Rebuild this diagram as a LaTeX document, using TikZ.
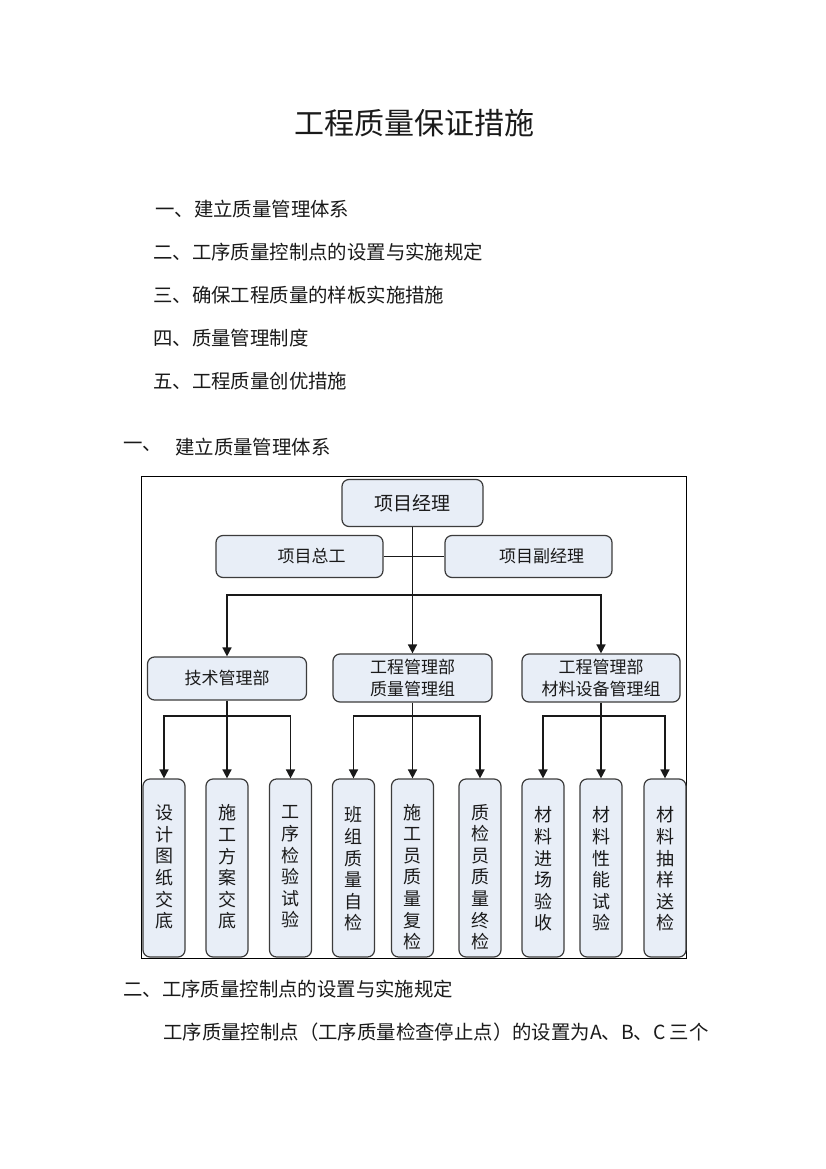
\documentclass[tikz,border=0pt]{standalone}
\usepackage{fontspec}
\setmainfont{Noto Sans CJK SC}
\usetikzlibrary{arrows.meta}
\definecolor{boxfill}{HTML}{E8EEF7}
\definecolor{boxdraw}{HTML}{3C3C3C}
\definecolor{ink}{HTML}{1A1A1A}
\begin{document}
\begin{tikzpicture}[x=1pt,y=-1pt,
  box/.style={draw=boxdraw, fill=boxfill, rounded corners=7pt, line width=1.2pt, inner sep=0pt, text=ink},
  hbox/.style={box, font=\fontsize{17}{22}\selectfont, align=center},
  vbox/.style={box, minimum width=42pt, minimum height=178pt},
  vtxt/.style={inner sep=0pt, align=center, text=ink, font=\fontsize{18}{21.6}\selectfont},
  conn/.style={line width=1.6pt, draw=black!90},
  arr/.style={conn, -{Triangle[length=9pt,width=9pt]}},
  body/.style={inner sep=0pt, anchor=west, text=ink, font=\fontsize{19.4}{19.4}\selectfont}]
\fill[white] (0,0) rectangle (826,1169);
\path[use as bounding box] (0,0) rectangle (826,1169);

% title and text
\node[inner sep=0pt, text=ink, font=\fontsize{30}{30}\selectfont] (title) at (414,123) {工程质量保证措施};
\node[body] (l1) at (155,209) {一、建立质量管理体系};
\node[body] (l2) at (153,252) {二、工序质量控制点的设置与实施规定};
\node[body] (l3) at (153,295) {三、确保工程质量的样板实施措施};
\node[body] (l4) at (153,338) {四、质量管理制度};
\node[body] (l5) at (153,381) {五、工程质量创优措施};
\node[body] (h1a) at (123,447) {一、};
\node[body] (h1b) at (175,447) {建立质量管理体系};
\node[body] (h2) at (123,989) {二、工序质量控制点的设置与实施规定};
\node[body] (p1) at (163,1032) {工序质量控制点（工序质量检查停止点）的设置为A、B、C\hspace{4pt}三个};

% frame
\draw[line width=0.9pt, draw=black] (141,476) rectangle (686,958);

% upper nodes
\node[hbox, minimum width=141pt, minimum height=47pt, font=\fontsize{19}{22}\selectfont] (pm) at (412.5,503) {项目经理};
\node[hbox, minimum width=167pt, minimum height=42pt] (zg) at (299.5,556.5) {\hspace*{24pt}项目总工};
\node[hbox, minimum width=167pt, minimum height=42pt] (fj) at (528.5,556.5) {\hspace*{26pt}项目副经理};
\node[hbox, minimum width=159pt, minimum height=43pt] (js) at (227,678.5) {技术管理部};
\node[hbox, minimum width=159pt, minimum height=48pt] (zl) at (412.5,678) {工程管理部\\质量管理组};
\node[hbox, minimum width=158pt, minimum height=48pt] (cl) at (601,678) {工程管理部\\材料设备管理组};

% bottom nodes
\node[vbox, label={[vtxt, yshift=1pt]center:设\\计\\图\\纸\\交\\底}] (d1) at (164,868) {};
\node[vbox, label={[vtxt, yshift=1pt]center:施\\工\\方\\案\\交\\底}] (d2) at (227,868) {};
\node[vbox, label={[vtxt, yshift=1pt]center:工\\序\\检\\验\\试\\验}] (d3) at (290.5,868) {};
\node[vbox, label={[vtxt, yshift=-1pt]center:班\\组\\质\\量\\自\\检}] (e1) at (353.5,868) {};
\node[vbox, label={[vtxt, yshift=-9pt]center:施\\工\\员\\质\\量\\复\\检}] (e2) at (412.5,868) {};
\node[vbox, label={[vtxt, yshift=-9pt]center:质\\检\\员\\质\\量\\终\\检}] (e3) at (480,868) {};
\node[vbox, label={[vtxt, yshift=-1pt]center:材\\料\\进\\场\\验\\收}] (f1) at (543,868) {};
\node[vbox, label={[vtxt, yshift=-1pt]center:材\\料\\性\\能\\试\\验}] (f2) at (601,868) {};
\node[vbox, label={[vtxt, yshift=-1pt]center:材\\料\\抽\\样\\送\\检}] (f3) at (665,868) {};

% connectors
\coordinate (b0) at (412.5,595);
\coordinate (bj) at (227,716);
\coordinate (bz) at (412.5,716);
\coordinate (bc) at (601,716);
\draw[conn] (zg.east) -- (fj.west);
\draw[arr] (pm.south) -- (zl.north);
\draw[arr] (b0) -| (js.north);
\draw[arr] (b0) -| (cl.north);
\draw[arr] (js.south) -- (d2.north);
\draw[arr] (bj) -| (d1.north);
\draw[arr] (bj) -| (d3.north);
\draw[arr] (zl.south) -- (e2.north);
\draw[arr] (bz) -| (e1.north);
\draw[arr] (bz) -| (e3.north);
\draw[arr] (cl.south) -- (f2.north);
\draw[arr] (bc) -| (f1.north);
\draw[arr] (bc) -| (f3.north);
\end{tikzpicture}
\end{document}
